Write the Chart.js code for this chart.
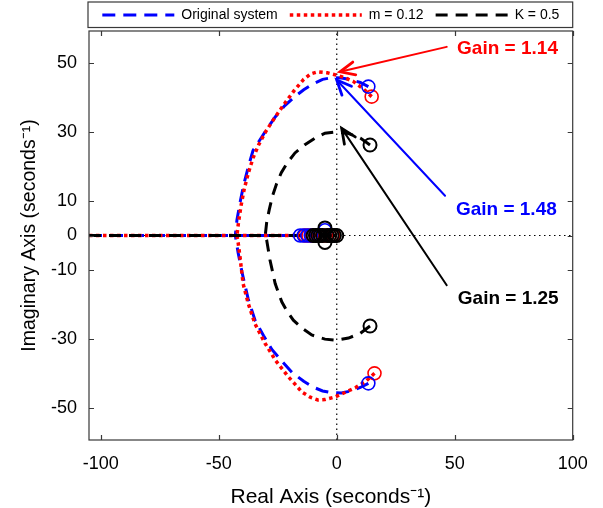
<!DOCTYPE html>
<html>
<head>
<meta charset="utf-8">
<script src="https://cdn.jsdelivr.net/npm/chart.js@4/dist/chart.umd.min.js"></script>
<style>
  html, body { margin: 0; padding: 0; background: #fff; }
  #wrap { width: 603px; height: 508px; }
</style>
</head>
<body>
<div id="wrap"><canvas id="locus"></canvas></div>
<script>
// Root locus branches (real, imaginary) in seconds^-1
const originalUpper = [[13.4,43.1],[10,44.3],[6,45.1],[2,45.6],[-2,45.7],[-6,45.2],[-10,43.9],[-14,42.2],[-18,40.1],[-22,37.6],[-26,34.4],[-30,30.4],[-33,27.2],[-35.5,24.6],[-37.5,19.8],[-39.5,14.5],[-41,9.5],[-42.3,4.5],[-43,0]];
const originalLower = [[13.4,-42.8],[10,-44],[6,-45],[2,-45.6],[-2,-45.5],[-6,-45],[-10,-43.9],[-14,-42.2],[-19,-39.6],[-23,-36.6],[-27.5,-33],[-31,-29],[-34.6,-24.6],[-37.6,-18.2],[-40.2,-10.5],[-41.8,-5],[-43,0]];
const originalReal = [[-105,0],[-15,0]];
const originalZeros = [[13.4,43.1],[13.4,-42.8],[-15.5,0],[-14,0],[-12.5,0],[-11,0],[-5,1.5]];

const mUpper = [[14.8,40.2],[11,42.6],[7,44.6],[3,45.8],[0,46.4],[-4,47.1],[-8,47.4],[-11,46.8],[-14,45.2],[-18,42],[-22,38.3],[-26,34.4],[-30,30.2],[-33,26.4],[-35.5,22.4],[-37.5,18],[-39.2,13.5],[-40.6,8.5],[-41.6,4],[-42.3,0]];
const mLower = [[16,-39.9],[12,-42.4],[8,-44],[3,-45.6],[-1,-46.8],[-5,-47.5],[-8,-47.6],[-11,-46.9],[-14.8,-45.3],[-18,-42.8],[-20.5,-40.9],[-26,-36.1],[-30.4,-31.2],[-34.7,-25.5],[-37.5,-19.7],[-39.7,-13.9],[-41,-6.2],[-41.8,-2],[-42.3,0]];
const mReal = [[-105,0],[-13,0]];
const mZeros = [[14.8,40.2],[16,-39.9],[-13.5,0],[-12,0],[-10.5,0],[-9,0],[-7.5,0],[-6,0],[-4.5,0],[-3,0],[-1.5,0]];

const kUpper = [[14.1,26.2],[10,28.2],[5,29.5],[0,30],[-5,29.6],[-9.2,28.2],[-13.5,26.3],[-17.7,23.9],[-21,21],[-23.5,18.2],[-25.5,15],[-27.2,11.5],[-28.6,7.5],[-29.7,3.8],[-30.3,0]];
const kLower = [[14.1,-26.2],[10,-28.3],[5,-29.7],[0,-30.3],[-5,-30],[-10.6,-28.8],[-14.5,-26.9],[-18.4,-24.5],[-21,-22],[-23.3,-19.2],[-26.1,-13.9],[-28.3,-7.1],[-29.7,-1.3],[-30.3,0]];
const kReal = [[-105,0],[0,0]];
const kZeros = [[14.1,26.2],[14.1,-26.2],[-10,0],[-9,0],[-8,0],[-7,0],[-6,0],[-5,2.2],[-5,-2],[-4,0],[-3,0],[-2,0],[-1,0],[0,0]];

// Axis ticks and limits
const xTicks = [-100, -50, 0, 50, 100];
const yTicks = [-50, -30, -10, 0, 10, 30, 50];
const xLimits = [-105, 100];
const yLimits = [-59.2, 59.2];

// Series names
const seriesNames = ['Original system', 'm = 0.12', 'K = 0.5'];

// Gain call-outs: arrow tip, arrow tail and label anchor in axis units
const gainNotes = [
  { text: 'Gain = 1.14', color: '#ff0000', tip: [1.4, 47.4], tail: [46.6, 54.6], at: [51, 54.2] },
  { text: 'Gain = 1.48', color: '#0000ff', tip: [0, 45.0],  tail: [45.9, 11.5], at: [50.5, 7.4] },
  { text: 'Gain = 1.25', color: '#000000', tip: [2.1, 31.0], tail: [46.6, -14.4], at: [51.3, -18.4] }
];

const FONT = "'Liberation Sans', Arial, Helvetica, sans-serif";
const toXY = arr => arr.map(p => ({ x: p[0], y: p[1] }));

const styles = [
  { color: '#0000ff', dash: [13, 8], width: 3 },
  { color: '#ff0000', dash: [3.5, 3.5], width: 3.5 },
  { color: '#000000', dash: [12, 8], width: 3 }
];

function branch(points, s) {
  return {
    data: toXY(points), showLine: true, borderColor: s.color, backgroundColor: s.color,
    borderWidth: s.width, borderDash: s.dash, borderCapStyle: 'butt',
    pointRadius: 0, pointHoverRadius: 0, tension: 0, fill: false
  };
}
function zeros(points, s, bw) {
  return {
    data: toXY(points), showLine: false, borderColor: s.color, backgroundColor: 'rgba(0,0,0,0)',
    pointStyle: 'circle', pointRadius: 6.5, pointBorderWidth: bw, pointHoverRadius: 6.5
  };
}
function guide(points) {
  return {
    data: toXY(points), showLine: true, borderColor: '#000', borderWidth: 1.2,
    borderDash: [1.5, 3.5], pointRadius: 0, pointHoverRadius: 0, fill: false
  };
}

// First dataset is painted last (on top)
const datasets = [
  zeros(kZeros, styles[2], 2), zeros(originalZeros, styles[0], 1.6), zeros(mZeros, styles[1], 1.6),
  branch(kReal, styles[2]),
  branch(mUpper, styles[1]), branch(mLower, styles[1]), branch(mReal, styles[1]),
  branch(originalUpper, styles[0]), branch(originalLower, styles[0]), branch(originalReal, styles[0]),
  branch(kUpper, styles[2]), branch(kLower, styles[2]),
  guide([[xLimits[0], 0], [xLimits[1], 0]]),
  guide([[0, yLimits[0]], [0, yLimits[1]]])
];

// Place the legend over the plot frame, and draw the frame, inward ticks and legend box
const framePlugin = {
  id: 'frame',
  afterLayout(chart) {
    const a = chart.chartArea, lg = chart.legend;
    lg.left = a.left; lg.right = a.right; lg.width = a.right - a.left;
    lg.top = -4;
  },
  afterDraw(chart) {
    const { ctx, chartArea: a, scales: { x, y } } = chart;
    ctx.save();
    ctx.strokeStyle = '#383838';
    ctx.lineWidth = 1.2;
    ctx.setLineDash([]);
    ctx.strokeRect(a.left, a.top, a.right - a.left, a.bottom - a.top);
    ctx.beginPath();
    xTicks.forEach(v => {
      const px = Math.round(x.getPixelForValue(v)) + 0.5;
      ctx.moveTo(px, a.bottom); ctx.lineTo(px, a.bottom - 5);
      ctx.moveTo(px, a.top); ctx.lineTo(px, a.top + 5);
    });
    yTicks.forEach(v => {
      const py = Math.round(y.getPixelForValue(v)) + 0.5;
      ctx.moveTo(a.left, py); ctx.lineTo(a.left + 5, py);
      ctx.moveTo(a.right, py); ctx.lineTo(a.right - 5, py);
    });
    ctx.stroke();
    // legend frame
    ctx.strokeRect(a.left - 1, a.top - 29, a.right - a.left + 1, 25.5);
    ctx.restore();
  }
};

// Arrows with gain labels
const notesPlugin = {
  id: 'gainNotes',
  afterDatasetsDraw(chart) {
    const { ctx, scales: { x, y } } = chart;
    ctx.save();
    gainNotes.forEach(n => {
      const tx = x.getPixelForValue(n.tip[0]), ty = y.getPixelForValue(n.tip[1]);
      const sx = x.getPixelForValue(n.tail[0]), sy = y.getPixelForValue(n.tail[1]);
      ctx.strokeStyle = n.color;
      ctx.fillStyle = n.color;
      ctx.setLineDash([]);
      ctx.lineWidth = 2;
      ctx.lineCap = 'round';
      ctx.beginPath(); ctx.moveTo(sx, sy); ctx.lineTo(tx, ty); ctx.stroke();
      const ang = Math.atan2(ty - sy, tx - sx);
      const L = 16, spread = 0.42;
      ctx.lineWidth = 2.8;
      ctx.beginPath();
      ctx.moveTo(tx - L * Math.cos(ang - spread), ty - L * Math.sin(ang - spread));
      ctx.lineTo(tx, ty);
      ctx.lineTo(tx - L * Math.cos(ang + spread), ty - L * Math.sin(ang + spread));
      ctx.stroke();
      ctx.font = 'bold 19px ' + FONT;
      ctx.textAlign = 'left';
      ctx.textBaseline = 'middle';
      ctx.fillText(n.text, x.getPixelForValue(n.at[0]), y.getPixelForValue(n.at[1]));
    });
    ctx.restore();
  }
};

new Chart(document.getElementById('locus'), {
  type: 'scatter',
  data: { datasets },
  plugins: [framePlugin, notesPlugin],
  options: {
    responsive: true,
    maintainAspectRatio: false,
    animation: false,
    events: [],
    layout: { padding: { top: 0, right: 30.3, bottom: 0, left: 0 } },
    plugins: {
      tooltip: { enabled: false },
      legend: {
        display: true,
        position: 'top',
        align: 'center',
        maxHeight: 31,
        labels: {
          font: { family: FONT, size: 14 },
          color: '#000',
          usePointStyle: true,
          pointStyleWidth: 72,
          padding: 12,
          generateLabels: () => seriesNames.map((name, i) => ({
            text: name,
            fillStyle: styles[i].color,
            strokeStyle: styles[i].color,
            lineWidth: styles[i].width,
            lineDash: styles[i].dash,
            lineCap: 'butt',
            pointStyle: 'line',
            fontColor: '#000',
            hidden: false,
            datasetIndex: i
          }))
        }
      }
    },
    scales: {
      x: {
        type: 'linear', position: 'bottom',
        min: xLimits[0], max: xLimits[1],
        afterBuildTicks: s => { s.ticks = xTicks.map(v => ({ value: v })); },
        afterFit: s => { s.height = 68; },
        grid: { display: false, drawTicks: false },
        border: { display: false },
        ticks: { font: { family: FONT, size: 18 }, color: '#000', padding: 13, maxRotation: 0 },
        title: { display: true, text: 'Real Axis (seconds⁻¹)', color: '#000',
                 font: { family: FONT, size: 21, lineHeight: 1 }, padding: { top: 0, bottom: 0 } }
      },
      y: {
        type: 'linear', position: 'left',
        min: yLimits[0], max: yLimits[1],
        afterBuildTicks: s => { s.ticks = yTicks.map(v => ({ value: v })); },
        afterFit: s => { s.width = 89; },
        grid: { display: false, drawTicks: false },
        border: { display: false },
        ticks: { font: { family: FONT, size: 18 }, color: '#000', padding: 12 },
        title: { display: true, text: 'Imaginary Axis (seconds⁻¹)', color: '#000',
                 font: { family: FONT, size: 19.5, lineHeight: 1 }, padding: { top: 20, bottom: 0 } }
      }
    }
  }
});
</script>
</body>
</html>
